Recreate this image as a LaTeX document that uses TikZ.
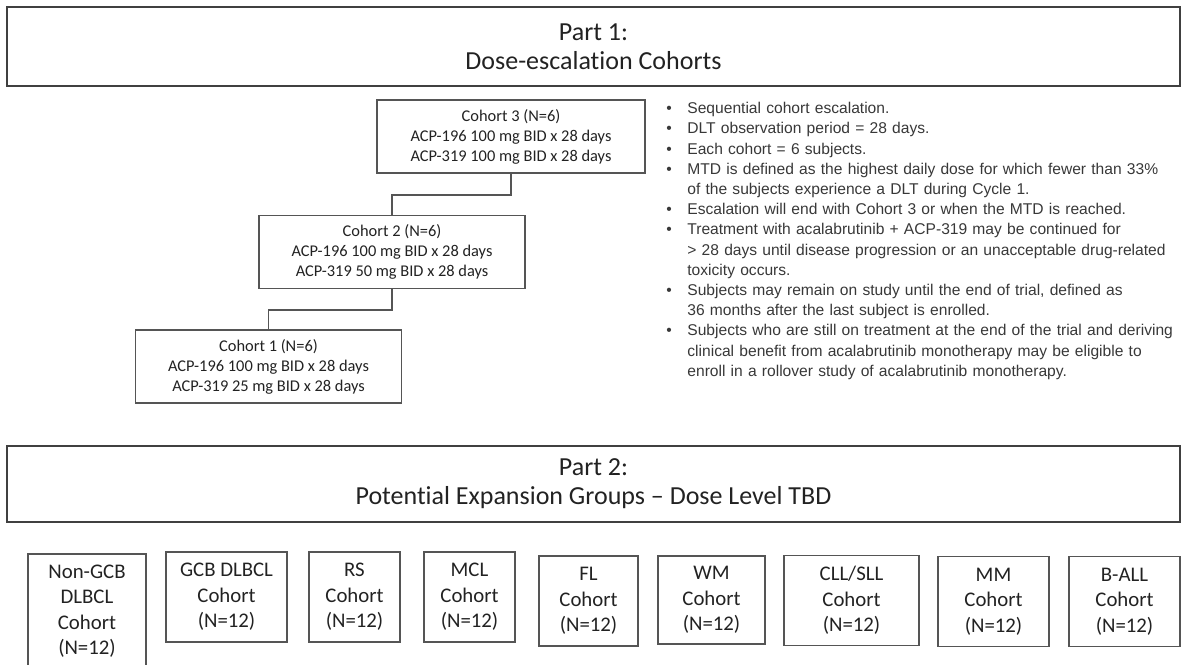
\documentclass[tikz,border=0pt]{standalone}
\usepackage{fontspec}
\setmainfont{Carlito}[Ligatures=NoCommon]
\newfontfamily\arialfont{Liberation Sans}
\usetikzlibrary{positioning}
\definecolor{framegray}{HTML}{404040}
\definecolor{linegray}{HTML}{555555}
\definecolor{inkgray}{HTML}{222222}
\tikzset{
  partbox/.style={draw=framegray,line width=1pt,minimum width=586.5pt,align=center,inner sep=0pt,text=inkgray,font=\fontsize{13}{14.5}\selectfont},
  cohortbox/.style={draw=linegray,line width=.7pt,minimum width=133pt,minimum height=36.5pt,align=center,inner sep=0pt,text=inkgray,font=\fontsize{8.2}{10}\selectfont},
  groupbox/.style={draw=linegray,line width=.7pt,minimum height=45pt,align=center,inner sep=0pt,text=inkgray,font=\fontsize{10.4}{12.75}\selectfont},
  notes/.style={anchor=north west,text width=262pt,inner sep=0pt,text=inkgray!90,font=\arialfont\fontsize{7.8}{10.1}\selectfont},
  link/.style={draw=linegray,line width=.8pt},
}
\newcommand\bullitem{\par\noindent\hangindent=10.5pt\hangafter=1\makebox[10.5pt][l]{\textbullet}}

\begin{document}
\begin{tikzpicture}[x=0.5pt,y=-0.5pt]
  \useasboundingbox (0,0) rectangle (1188,664);
  % part 1
  \node[partbox,minimum height=39.5pt] (part1) at (593.5,46.5) {Part 1:\\Dose-escalation Cohorts};
  \node[cohortbox,minimum width=134pt] (c3) at (511,136.5) {Cohort 3 (N=6)\\ACP-196 100 mg BID x 28 days\\ACP-319 100 mg BID x 28 days};
  \node[cohortbox] (c2) at (392,252) {Cohort 2 (N=6)\\ACP-196 100 mg BID x 28 days\\ACP-319 50 mg BID x 28 days};
  \node[cohortbox] (c1) at (268.5,366.5) {Cohort 1 (N=6)\\ACP-196 100 mg BID x 28 days\\ACP-319 25 mg BID x 28 days};
  \draw[link] (c3.south) -- ++(0,21) -| (c2.north);
  \draw[link] (c2.south) -- ++(0,20.5) -| (c1.north);
  \node[notes] (rules) at (666,93) {\raggedright
    \bullitem Sequential cohort escalation.
    \bullitem DLT observation period = 28 days.
    \bullitem Each cohort = 6 subjects.
    \bullitem MTD is defined as the highest daily dose for which fewer than 33\%\newline of the subjects experience a DLT during Cycle 1.
    \bullitem Escalation will end with Cohort 3 or when the MTD is reached.
    \bullitem Treatment with acalabrutinib + ACP-319 may be continued for\newline > 28 days until disease progression or an unacceptable drug-related\newline toxicity occurs.
    \bullitem Subjects may remain on study until the end of trial, defined as\newline 36 months after the last subject is enrolled.
    \bullitem Subjects who are still on treatment at the end of the trial and deriving\newline clinical benefit from acalabrutinib monotherapy may be eligible to\newline enroll in a rollover study of acalabrutinib monotherapy.\par};
  % part 2
  \node[partbox,minimum height=38pt] (part2) at (593.5,484) {Part 2:\\Potential Expansion Groups -- Dose Level TBD};
  \node[groupbox,minimum width=59pt,minimum height=57pt] (g1) at (87,611) {Non-GCB\\DLBCL\\Cohort\\(N=12)};
  \node[groupbox,minimum width=60.5pt] (g2) at (226.5,597) {GCB DLBCL\\Cohort\\(N=12)};
  \node[groupbox,minimum width=45.5pt] (g3) at (354.5,597) {RS\\Cohort\\(N=12)};
  \node[groupbox,minimum width=45.5pt] (g4) at (469.5,597) {MCL\\Cohort\\(N=12)};
  \node[groupbox,minimum width=49.5pt] (g5) at (588.5,601) {FL\\Cohort\\(N=12)};
  \node[groupbox,minimum width=53.5pt,minimum height=44pt] (g6) at (711.5,600) {WM\\Cohort\\(N=12)};
  \node[groupbox,minimum width=67.5pt] (g7) at (851.5,600.5) {CLL/SLL\\Cohort\\(N=12)};
  \node[groupbox,minimum width=55.5pt] (g8) at (993.5,601.5) {MM\\Cohort\\(N=12)};
  \node[groupbox,minimum width=55.5pt] (g9) at (1124.5,601.5) {B-ALL\\Cohort\\(N=12)};
\end{tikzpicture}
\end{document}
